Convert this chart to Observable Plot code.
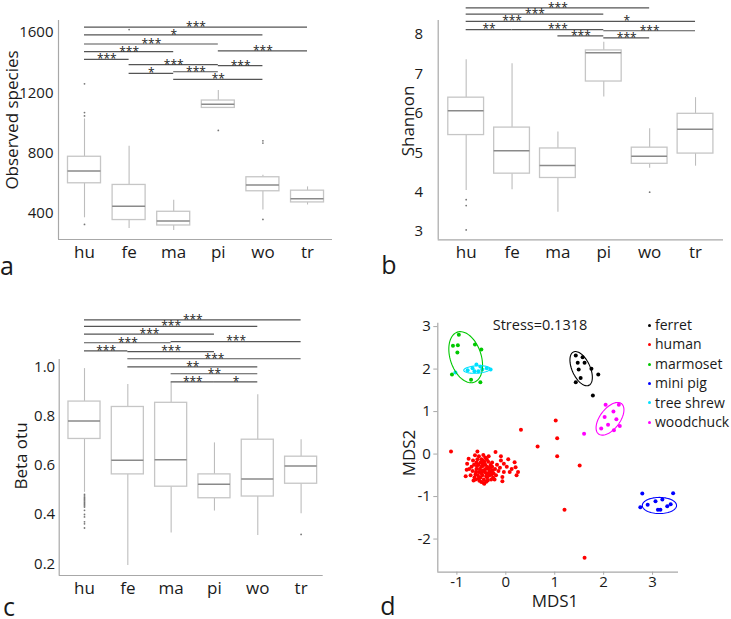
<!DOCTYPE html>
<html><head><meta charset="utf-8">
<script src="https://cdn.jsdelivr.net/npm/d3@7"></script>
<script src="https://cdn.jsdelivr.net/npm/@observablehq/plot@0.6"></script>
<style>
body{margin:0;background:#fff;font-family:"Open Sans",sans-serif;color:#1a1a1a;}
#root{position:relative;width:731px;height:619px;overflow:hidden;background:#fff;}
.panel{position:absolute;}
.t{position:absolute;white-space:nowrap;transform:translate(-50%,-50%);line-height:1;}
.rot{transform:translate(-50%,-50%) rotate(-90deg);}
.legend{position:absolute;left:648px;top:315px;font-size:14px;line-height:19.4px;}
.legend span.b{display:inline-block;width:3px;height:3px;border-radius:50%;margin-right:4px;vertical-align:middle;position:relative;top:-1px;}
</style></head><body>
<div id="root">
  <div id="pa" class="panel" style="left:0;top:0"></div>
  <div id="pb" class="panel" style="left:365px;top:0"></div>
  <div id="pc" class="panel" style="left:0;top:300px"></div>
  <div id="pd" class="panel" style="left:365px;top:300px"></div>
</div>
<script>
// ---------- shared categories ----------
const groups = ["hu", "fe", "ma", "pi", "wo", "tr"];

// ---------- panel a: Observed species ----------
const obsQ1  = [600, 356, 320, 1100, 547, 473];
const obsMed = [682, 447, 349, 1124, 589, 498];
const obsQ3  = [776, 589, 411, 1149, 640, 551];
const obsLo  = [371, 300, 287, 1100, 422, 456];
const obsHi  = [1027, 845, 487, 1216, 653, 576];
const obsOut = [["hu",1069],["hu",1047],["hu",1260],["hu",327],["fe",1620],["pi",951],["wo",882],["wo",867],["wo",360]];
const obsTicks = [400, 800, 1200, 1600];
const obsSig = [["hu","tr",1636,"***"],["hu","wo",1584,"*"],["hu","pi",1524,"***"],["hu","ma",1473,"***"],["hu","fe",1422,"***"],
  ["pi","tr",1478,"***"],["fe","pi",1387,"***"],["pi","wo",1380,"***"],["fe","ma",1329,"*"],["ma","pi",1340,"***"],["ma","wo",1289,"**"]];

// ---------- panel b: Shannon ----------
const shQ1  = [5.45, 4.47, 4.36, 6.81, 4.72, 4.98];
const shMed = [6.07, 5.05, 4.68, 7.54, 4.91, 5.60];
const shQ3  = [6.40, 5.64, 5.11, 7.60, 5.13, 5.99];
const shLo  = [4.04, 4.06, 3.49, 6.42, 4.61, 4.66];
const shHi  = [7.36, 7.26, 5.53, 7.81, 5.61, 6.40];
const shOut = [["hu",3.81],["hu",3.66],["hu",3.04],["wo",4.0]];
const shTicks = [3, 4, 5, 6, 7, 8];
const shSig = [["hu","wo",8.68,"***"],["hu","pi",8.52,"***"],["hu","ma",8.34,"***"],["ma","tr",8.34,"*"],["hu","fe",8.13,"**"],
  ["fe","pi",8.13,"***"],["pi","tr",8.10,"***"],["ma","pi",7.97,"***"],["pi","wo",7.92,"***"]];

// ---------- panel c: Beta otu ----------
const btQ1  = [0.707, 0.563, 0.513, 0.466, 0.473, 0.525];
const btMed = [0.780, 0.620, 0.623, 0.523, 0.544, 0.597];
const btQ3  = [0.859, 0.837, 0.854, 0.563, 0.704, 0.635];
const btLo  = [0.490, 0.193, 0.325, 0.414, 0.315, 0.403];
const btHi  = [0.993, 0.928, 0.935, 0.691, 0.887, 0.704];
const btOut = [["hu",0.482],["hu",0.476],["hu",0.470],["hu",0.465],["hu",0.460],["hu",0.455],["hu",0.450],["hu",0.445],["hu",0.440],
  ["hu",0.435],["hu",0.430],["hu",0.417],["hu",0.400],["hu",0.390],["hu",0.370],["hu",0.362],["hu",0.345],["tr",0.319]];
const btTicks = [0.2, 0.4, 0.6, 0.8, 1.0];
const btSig = [["hu","tr",1.191,"***"],["hu","wo",1.165,"***"],["hu","pi",1.133,"***"],["hu","ma",1.098,"***"],["ma","tr",1.103,"***"],
  ["hu","fe",1.065,"***"],["fe","pi",1.062,"***"],["fe","tr",1.033,"***"],["fe","wo",1.0,"**"],["ma","wo",0.972,"**"],
  ["ma","pi",0.939,"***"],["pi","wo",0.939,"*"]];

// ---------- panel d: NMDS ----------
const species = ["ferret", "human", "marmoset", "mini pig", "tree shrew", "woodchuck"];
const speciesColors = ["#000000", "#ff0000", "#00c800", "#0000ff", "#00e0ff", "#ff00ff"];
const ferretPts = [[1.43,2.32],[1.57,2.28],[1.47,2.15],[1.61,2.15],[1.49,1.99],[1.75,2.01],[1.89,1.87],[1.43,1.69],[1.53,1.79],[1.78,1.38]];
const marmosetPts = [[-0.96,2.81],[-1.08,2.55],[-0.98,2.56],[-0.99,2.39],[-0.63,2.58],[-0.50,2.46],[-1.10,1.87],[-0.71,1.75],[-0.52,1.69]];
const treeShrewPts = [[-1.03,1.92],[-0.78,1.97],[-0.68,2.02],[-0.60,2.11],[-0.56,1.95],[-0.48,1.99],[-0.39,2.02],[-0.31,1.99],[-0.64,1.95],[-0.52,2.06]];
const miniPigPts = [[2.79,-0.93],[3.42,-0.92],[2.75,-1.25],[2.90,-1.19],[3.06,-1.11],[3.20,-1.07],[3.11,-1.31],[3.16,-1.31],[3.30,-1.23],[3.37,-1.18]];
const woodchuckPts = [[2.04,1.16],[2.31,1.16],[2.20,1.00],[2.02,0.87],[2.26,0.82],[2.09,0.69],[1.95,0.60],[2.21,0.56],[2.33,0.66],[1.60,0.48]];
const humanPts = [
  [-0.45,-0.38],[-0.5,-0.3],[-0.4,-0.45],[-0.55,-0.42],[-0.35,-0.35],[-0.48,-0.5],[-0.42,-0.25],[-0.6,-0.35],[-0.3,-0.42],[-0.52,-0.2],
  [-0.38,-0.55],[-0.62,-0.48],[-0.28,-0.3],[-0.45,-0.6],[-0.56,-0.58],[-0.33,-0.5],[-0.47,-0.15],[-0.65,-0.25],[-0.25,-0.45],[-0.4,-0.65],
  [-0.58,-0.12],[-0.36,-0.18],[-0.68,-0.4],[-0.22,-0.35],[-0.5,-0.66],[-0.3,-0.6],[-0.7,-0.3],[-0.62,-0.6],[-0.42,-0.08],[-0.28,-0.2],
  [-0.2,-0.5],[-0.72,-0.5],[-0.55,-0.05],[-0.35,-0.05],[-0.18,-0.25],[-0.44,-0.7],[-0.6,-0.2],[-0.5,-0.45],[-0.38,-0.3],[-0.53,-0.35],
  [-0.43,-0.42],[-0.47,-0.28],[-0.33,-0.4],[-0.57,-0.5],[-0.4,-0.52],[-0.26,-0.55],[-0.64,-0.55],[-0.48,-0.22],[-0.37,-0.62],[-0.54,-0.63],
  [-0.31,-0.25],[-0.67,-0.15],[-0.23,-0.6],[-0.46,-0.02],[-0.75,-0.35],[-0.15,-0.4],[-0.52,-0.55],[-0.41,-0.35],[-0.49,-0.4],[-0.36,-0.45],
  [-0.59,-0.28],[-0.44,-0.18],[-0.32,-0.32],[-0.61,-0.42],[-0.27,-0.38],[-0.5,-0.12],[-0.39,-0.12],[-0.66,-0.62],[-0.29,-0.48],[-0.56,-0.25],
  [-0.58,0.06],[-0.21,0.05],[0.05,-0.12],[0.18,-0.19],[-0.04,-0.23],[0.2,-0.31],[0.25,-0.42],[0.22,-0.5],[-0.04,-0.42],[-0.07,-0.54],
  [-0.07,-0.64],[0.08,-0.42],[-0.79,-0.23],[-0.8,-0.37],[-0.82,-0.52],[-0.76,-0.11],[-0.63,-0.03],[-0.45,-0.68],[0.02,-0.3],[-0.1,-0.15],
  [-0.12,-0.32],[0.12,-0.35],[-0.1,-0.05],
  [-1.12,0.06],[0.31,0.57],[1.02,0.79],[0.65,0.18],[1.05,0.37],[1.05,-0.05],[1.51,-0.27],[1.20,-1.31],[1.61,-2.44]];
// ellipses: [species, cx, cy, major-x, major-y, minor-x, minor-y]
const ellipses = [
  ["ferret", 1.54, 2.01, 0.157, -0.393, 0.167, 0.089],
  ["marmoset", -0.82, 2.28, 0.17, -0.59, 0.30, 0.115],
  ["mini pig", 3.14, -1.21, 0.35, 0, 0, 0.19],
  ["tree shrew", -0.59, 1.99, 0.27, 0.02, -0.006, 0.087],
  ["woodchuck", 2.13, 0.83, 0.233, 0.358, 0.164, -0.141]];
const mdsXTicks = [-1, 0, 1, 2, 3];
const mdsYTicks = [-2, -1, 0, 1, 2, 3];
const stressText = "Stress=0.1318";

const FONT = '"Open Sans", sans-serif';
const AXIS = "#a8a8a8";

function boxPanel(cfg) {
  const idx = g => groups.indexOf(g);
  const boxes = groups.map((g, i) => ({i, q1: cfg.q1[i], med: cfg.med[i], q3: cfg.q3[i], lo: cfg.lo[i], hi: cfg.hi[i]}));
  const outs = cfg.out.map(([g, v]) => ({i: idx(g), v}));
  const sigs = cfg.sig.map(([a, b, y, t]) => ({a: idx(a), b: idx(b), y, t}));
  const hw = cfg.halfBox;
  return Plot.plot({
    width: cfg.width, height: cfg.height,
    marginLeft: cfg.m[0], marginRight: cfg.m[1], marginTop: cfg.m[2], marginBottom: cfg.m[3],
    style: {fontFamily: FONT, overflow: "visible", background: "transparent", color: "#1a1a1a"},
    x: {domain: cfg.xDomain},
    y: {domain: cfg.yDomain},
    marks: [
      Plot.ruleX([cfg.xDomain[0]], {stroke: AXIS, strokeWidth: 1.2}),
      Plot.ruleY([cfg.yDomain[0]], {stroke: AXIS, strokeWidth: 1.2}),
      Plot.axisX({ticks: groups.map((g, i) => i), tickFormat: i => groups[i], tickSize: 0, tickPadding: 6, fontSize: 17, label: null}),
      Plot.axisY({ticks: cfg.yTicks, tickFormat: cfg.yFormat, tickSize: 0, tickPadding: cfg.yPad, fontSize: 15, label: null}),
      Plot.ruleX(boxes, {x: "i", y1: "lo", y2: "q1", stroke: "#bdbdbd", strokeWidth: 1.1}),
      Plot.ruleX(boxes, {x: "i", y1: "q3", y2: "hi", stroke: "#bdbdbd", strokeWidth: 1.1}),
      Plot.rect(boxes, {x1: d => d.i - hw, x2: d => d.i + hw, y1: "q1", y2: "q3", fill: "white", stroke: "#c6c6c6", strokeWidth: 1.3}),
      Plot.ruleY(boxes, {x1: d => d.i - hw, x2: d => d.i + hw, y: "med", stroke: "#8a8a8a", strokeWidth: 1.5}),
      Plot.dot(outs, {x: "i", y: "v", r: 0.9, fill: "#777", stroke: null}),
      Plot.ruleY(sigs, {x1: "a", x2: "b", y: "y", stroke: "#555", strokeWidth: 1.2}),
      Plot.text(sigs, {x: d => (d.a + d.b) / 2, y: "y", text: "t", fontSize: 12, fill: "#222", lineAnchor: "middle"})
    ]
  });
}

document.getElementById("pa").append(boxPanel({
  q1: obsQ1, med: obsMed, q3: obsQ3, lo: obsLo, hi: obsHi, out: obsOut, sig: obsSig,
  width: 365, height: 300, m: [58, 33, 20, 61], xDomain: [-0.583, 5.56], yDomain: [227, 1680],
  yTicks: obsTicks, yFormat: d => String(d), yPad: 5, halfBox: 0.37
}));
document.getElementById("pb").append(boxPanel({
  q1: shQ1, med: shMed, q3: shQ3, lo: shLo, hi: shHi, out: shOut, sig: shSig,
  width: 366, height: 300, m: [72.7, 8, 20, 60.7], xDomain: [-0.61, 5.61], yDomain: [2.79, 8.36],
  yTicks: shTicks, yFormat: d => String(d), yPad: 15, halfBox: 0.39
}));
document.getElementById("pc").append(boxPanel({
  q1: btQ1, med: btMed, q3: btQ3, lo: btLo, hi: btHi, out: btOut, sig: btSig,
  width: 365, height: 319, m: [58.7, 42.3, 59, 44], xDomain: [-0.584, 5.51], yDomain: [0.152, 1.03],
  yTicks: btTicks, yFormat: d3.format(".1f"), yPad: 4, halfBox: 0.37
}));

// panel d
const toRows = (name, pts) => pts.map(([x, y]) => ({species: name, x, y}));
const dotRows = [
  ...toRows("human", humanPts), ...toRows("ferret", ferretPts), ...toRows("woodchuck", woodchuckPts),
  ...toRows("mini pig", miniPigPts), ...toRows("marmoset", marmosetPts), ...toRows("tree shrew", treeShrewPts)];
const ellipseRows = ellipses.flatMap(([s, cx, cy, ax, ay, bx, by]) =>
  d3.range(0, 73).map(k => {
    const t = k / 72 * 2 * Math.PI;
    return {species: s, x: cx + ax * Math.cos(t) + bx * Math.sin(t), y: cy + ay * Math.cos(t) + by * Math.sin(t)};
  }));
const dX = [-1.39, 3.53], dY = [-2.78, 3.08];
document.getElementById("pd").append(Plot.plot({
  width: 366, height: 319, marginLeft: 72.3, marginRight: 53, marginTop: 22.7, marginBottom: 47.3,
  style: {fontFamily: FONT, overflow: "visible", background: "transparent", color: "#1a1a1a"},
  x: {domain: dX}, y: {domain: dY},
  color: {domain: species, range: speciesColors},
  marks: [
    Plot.ruleX([dX[0]], {stroke: AXIS, strokeWidth: 1.2}),
    Plot.ruleY([dY[0]], {stroke: AXIS, strokeWidth: 1.2}),
    Plot.axisX({ticks: mdsXTicks, tickFormat: d => String(d), tickSize: 3, tickPadding: 1, fontSize: 15, stroke: AXIS, label: null}),
    Plot.axisY({ticks: mdsYTicks, tickFormat: d => String(d), tickSize: 4, tickPadding: 3, fontSize: 15, stroke: AXIS, label: null}),
    Plot.dot(dotRows, {x: "x", y: "y", fill: "species", r: 2, stroke: null}),
    Plot.line(ellipseRows, {x: "x", y: "y", z: "species", stroke: "species", strokeWidth: 1.1, curve: "linear"})
  ]
}));

// titles / labels (HTML text)
const root = document.getElementById("root");
function addText(txt, x, y, size, rot, lh) {
  const el = document.createElement("div");
  el.className = "t" + (rot ? " rot" : "");
  el.textContent = txt;
  el.style.left = x + "px"; el.style.top = y + "px"; el.style.fontSize = size + "px";
  if (lh) el.style.lineHeight = lh;
  root.append(el);
}
const axisTitles = [["Observed species", 11, 120], ["Shannon", 407, 121], ["Beta otu", 20, 456], ["MDS2", 408, 453]];
axisTitles.forEach(([t, x, y]) => addText(t, x, y, 17, true));
addText("MDS1", 555, 601, 17, false, 0.8);
addText(stressText, 540, 325, 14.5, false);
const panelLetters = [["a", 7, 265], ["b", 389, 264], ["c", 9, 606], ["d", 388, 605]];
panelLetters.forEach(([t, x, y]) => addText(t, x, y, 25, false, 0.6));

// legend
const leg = document.createElement("div");
leg.className = "legend";
species.forEach((s, i) => {
  const row = document.createElement("div");
  const b = document.createElement("span");
  b.className = "b"; b.style.background = speciesColors[i];
  row.append(b, document.createTextNode(s));
  leg.append(row);
});
root.append(leg);
</script>
</body></html>
